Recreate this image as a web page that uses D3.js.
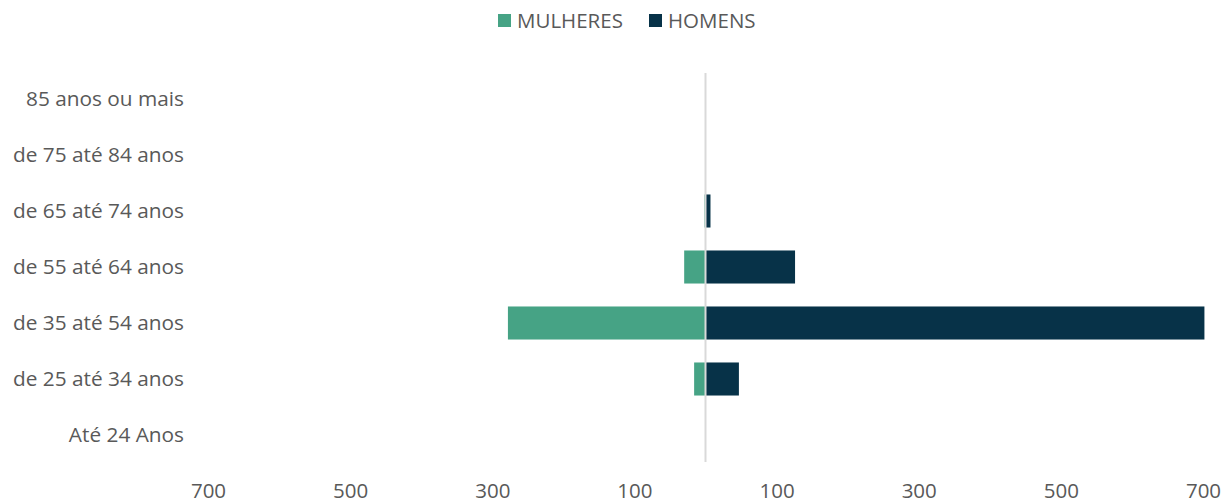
<!DOCTYPE html>
<html>
<head>
<meta charset="utf-8">
<script src="https://cdn.jsdelivr.net/npm/d3@7"></script>
<style>
  body { margin: 0; background: #fff; }
  text { font-family: "Open Sans", Lato, sans-serif; fill: #595959; }
</style>
</head>
<body>
<svg id="chart" width="1224" height="503"></svg>
<script>
var categories = ["85 anos ou mais", "de 75 até 84 anos", "de 65 até 74 anos",
    "de 55 até 64 anos", "de 35 até 54 anos", "de 25 até 34 anos", "Até 24 Anos"];
var mulheres = [0, 0, 1.5, 30, 278, 16, 0];
var homens = [0, 0, 7, 126, 702, 47, 0];
var tickValues = [-700, -500, -300, -100, 100, 300, 500, 700];

var series = [
    {name: "MULHERES", values: mulheres, sign: -1, color: "#46a385"},
    {name: "HOMENS", values: homens, sign: 1, color: "#073248"}
];

var svg = d3.select("#chart");

var x = d3.scaleLinear().domain([-700, 700]).range([208, 1203]);
var y = d3.scaleBand().domain(categories).range([71, 463]).paddingInner(0.41).paddingOuter(0.205);

// bars
series.forEach(function (s) {
    svg.append("g")
        .selectAll("rect")
        .data(s.values)
        .enter().append("rect")
        .attr("x", function (d) {
            return s.sign < 0 ? x(-d) : x(0);
        })
        .attr("y", function (d, i) {
            return y(categories[i]);
        })
        .attr("width", function (d) {
            return Math.abs(x(d) - x(0));
        })
        .attr("height", y.bandwidth())
        .attr("fill", s.color);
});

// zero line
svg.append("line")
    .attr("x1", x(0)).attr("x2", x(0))
    .attr("y1", 73).attr("y2", 462)
    .attr("stroke", "#d9d9d9")
    .attr("stroke-width", 2);

// category labels
svg.append("g")
    .selectAll("text")
    .data(categories)
    .enter().append("text")
    .attr("x", 184)
    .attr("y", function (d) {
        return y(d) + y.bandwidth() / 2;
    })
    .attr("dy", "0.35em")
    .attr("text-anchor", "end")
    .style("font-size", "20.8px")
    .text(function (d) { return d; });

// x axis
var xAxis = svg.append("g")
    .attr("transform", "translate(0,480)")
    .call(d3.axisBottom(x).tickValues(tickValues).tickSize(0).tickFormat(function (d) {
        return Math.abs(d);
    }));
xAxis.select(".domain").remove();
xAxis.selectAll("text")
    .style("font-size", "20.5px")
    .style("font-family", "'Open Sans', Lato, sans-serif")
    .attr("fill", "#595959");

// legend
var legend = svg.append("g");
var lx = [498, 649];
series.forEach(function (s, i) {
    legend.append("rect")
        .attr("x", lx[i]).attr("y", 14)
        .attr("width", 13).attr("height", 13)
        .attr("fill", s.color);
    legend.append("text")
        .attr("x", lx[i] + 19)
        .attr("y", 28)
        .style("font-size", "20.5px")
        .text(s.name);
});
</script>
</body>
</html>
